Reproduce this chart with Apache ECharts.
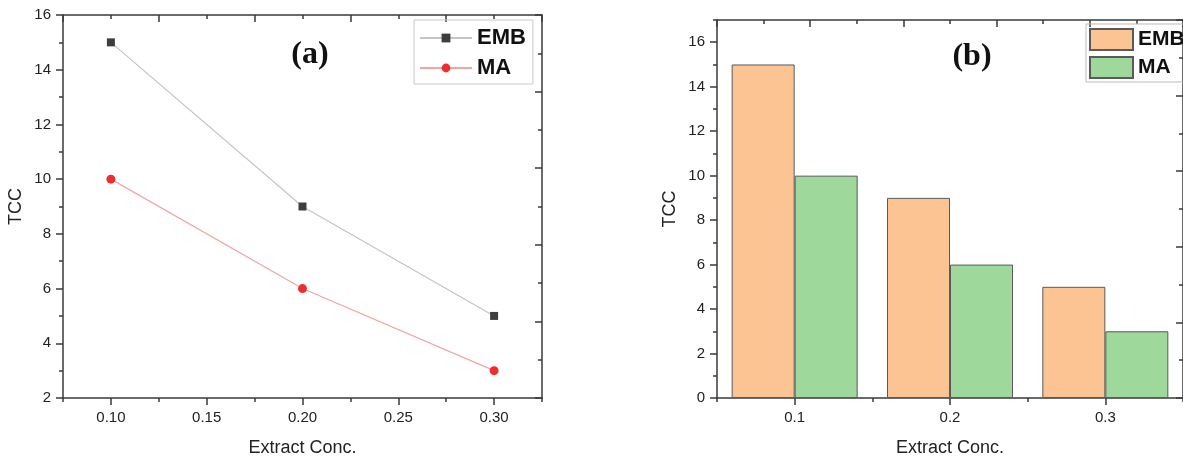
<!DOCTYPE html>
<html>
<head>
<meta charset="utf-8">
<script src="https://cdn.jsdelivr.net/npm/echarts@6/dist/echarts.min.js"></script>
<style>
  html, body { margin: 0; padding: 0; background: #fff; }
  #chart { width: 1183px; height: 462px; }
</style>
</head>
<body>
<div id="chart"></div>
<script>
// data
const conc = [0.1, 0.2, 0.3];
const embTcc = [15, 9, 5];
const maTcc = [10, 6, 3];

// tick labels
const xLabelsA = [0.1, 0.15, 0.2, 0.25, 0.3];
const xMinorA = [0.075, 0.125, 0.175, 0.225, 0.275, 0.325];
const xLabelsB = [0.1, 0.2, 0.3];
const xMinorB = [0.05, 0.15, 0.25, 0.35];
const yLabelsB = [0, 2, 4, 6, 8, 10, 12, 14, 16];
const yMinorB = [1, 3, 5, 7, 9, 11, 13, 15, 17];

const sans = 'Liberation Sans, Arial, sans-serif';
const serif = 'Liberation Serif, Times New Roman, serif';
const axisColor = '#3a3a3a';

const pairs = vals => conc.map((x, i) => [x, vals[i]]);

// plain mirrored / helper axis
const axis = (o) => Object.assign({
  type: 'value',
  axisLine: { show: true, onZero: false, lineStyle: { color: axisColor, width: 1.5 } },
  axisTick: { show: true, length: 7, lineStyle: { color: axisColor, width: 1.5 } },
  axisLabel: { show: false },
  splitLine: { show: false }
}, o);

const tickLabel = { fontFamily: sans, fontSize: 15, color: '#222', margin: 12 };
const axisName = { fontFamily: sans, fontSize: 18, color: '#222' };

const chart = echarts.init(document.getElementById('chart'), null, { renderer: 'canvas' });

chart.setOption({
  animation: false,
  backgroundColor: '#fff',
  title: [
    { text: '(a)', left: 305, top: 34, textAlign: 'center',
      textStyle: { fontFamily: serif, fontWeight: 'bold', fontSize: 32, color: '#111' } },
    { text: '(b)', left: 967, top: 36, textAlign: 'center',
      textStyle: { fontFamily: serif, fontWeight: 'bold', fontSize: 32, color: '#111' } }
  ],
  grid: [
    { left: 63, top: 15, width: 479, height: 387 },
    { left: 717, top: 20, width: 472, height: 382 }
  ],
  legend: [
    {
      data: ['EMB', 'MA'],
      orient: 'vertical', left: 414, top: 20,
      padding: [6, 7, 4, 5], itemGap: 6,
      itemWidth: 52, itemHeight: 11,
      borderColor: '#c8c8c8', borderWidth: 1,
      textStyle: { fontFamily: sans, fontWeight: 'bold', fontSize: 22, lineHeight: 24, color: '#111' }
    },
    {
      data: ['EMB bar', 'MA bar'],
      formatter: name => name.replace(' bar', ''),
      orient: 'vertical', left: 1086, top: 24,
      padding: [4, 3, 3, 3], itemGap: 5,
      icon: 'rect', itemWidth: 43, itemHeight: 21,
      borderColor: '#bbb', borderWidth: 1,
      textStyle: { fontFamily: sans, fontWeight: 'bold', fontSize: 21, lineHeight: 21, color: '#111' }
    }
  ],
  xAxis: [
    axis({
      gridIndex: 0, position: 'bottom', min: 0.075, max: 0.325,
      axisTick: { show: true, length: 7, customValues: xLabelsA, lineStyle: { color: axisColor, width: 1.5 } },
      axisLabel: Object.assign({ show: true, customValues: xLabelsA, formatter: v => v.toFixed(2) }, tickLabel),
      name: 'Extract Conc.', nameLocation: 'middle', nameGap: 41, nameTextStyle: axisName
    }),
    axis({
      gridIndex: 0, position: 'bottom', min: 0.075, max: 0.325,
      axisLine: { show: false },
      axisTick: { show: true, length: 4, customValues: xMinorA, lineStyle: { color: axisColor, width: 1.5 } }
    }),
    axis({
      gridIndex: 0, position: 'top', min: 0.075, max: 0.325, interval: 0.05,
      axisTick: { show: true, inside: true, length: 7, lineStyle: { color: axisColor, width: 1.5 } },
      minorTick: { show: true, splitNumber: 2, length: 4, lineStyle: { color: axisColor, width: 1.5 } }
    }),
    axis({
      gridIndex: 1, position: 'bottom', min: 0.05, max: 0.35,
      axisTick: { show: true, length: 7, customValues: xLabelsB, lineStyle: { color: axisColor, width: 1.5 } },
      axisLabel: Object.assign({ show: true, customValues: xLabelsB, formatter: v => v.toFixed(1) }, tickLabel),
      name: 'Extract Conc.', nameLocation: 'middle', nameGap: 41, nameTextStyle: axisName
    }),
    axis({
      gridIndex: 1, position: 'bottom', min: 0.05, max: 0.35,
      axisLine: { show: false },
      axisTick: { show: true, length: 4, customValues: xMinorB, lineStyle: { color: axisColor, width: 1.5 } }
    }),
    axis({
      gridIndex: 1, position: 'top', min: 0.05, max: 0.35, interval: 0.06,
      axisTick: { show: true, inside: true, length: 7, lineStyle: { color: axisColor, width: 1.5 } },
      minorTick: { show: true, splitNumber: 2, length: 4, lineStyle: { color: axisColor, width: 1.5 } }
    })
  ],
  yAxis: [
    axis({
      gridIndex: 0, position: 'left', min: 2, max: 16, interval: 2,
      minorTick: { show: true, splitNumber: 2, length: 4, lineStyle: { color: axisColor, width: 1.5 } },
      axisLabel: Object.assign({ show: true }, tickLabel),
      name: 'TCC', nameLocation: 'middle', nameGap: 38, nameTextStyle: axisName
    }),
    axis({
      gridIndex: 0, position: 'right', min: 2, max: 16, interval: 2.8,
      axisTick: { show: true, inside: true, length: 7, lineStyle: { color: axisColor, width: 1.5 } },
      minorTick: { show: true, splitNumber: 2, length: 4, lineStyle: { color: axisColor, width: 1.5 } }
    }),
    axis({
      gridIndex: 1, position: 'left', min: 0, max: 17,
      axisTick: { show: true, length: 7, customValues: yLabelsB, lineStyle: { color: axisColor, width: 1.5 } },
      axisLabel: Object.assign({ show: true, customValues: yLabelsB }, tickLabel),
      name: 'TCC', nameLocation: 'middle', nameGap: 38, nameTextStyle: axisName
    }),
    axis({
      gridIndex: 1, position: 'left', min: 0, max: 17,
      axisLine: { show: false },
      axisTick: { show: true, length: 4, customValues: yMinorB, lineStyle: { color: axisColor, width: 1.5 } }
    }),
    axis({
      gridIndex: 1, position: 'right', min: 0, max: 17, interval: 3.4,
      axisTick: { show: true, inside: true, length: 7, lineStyle: { color: axisColor, width: 1.5 } },
      minorTick: { show: true, splitNumber: 2, length: 4, lineStyle: { color: axisColor, width: 1.5 } }
    })
  ],
  series: [
    {
      name: 'EMB', type: 'line', xAxisIndex: 0, yAxisIndex: 0,
      data: pairs(embTcc),
      symbol: 'rect', symbolSize: 8,
      itemStyle: { color: '#3d3d3d' },
      lineStyle: { color: '#c4c4c4', width: 1.2 }
    },
    {
      name: 'MA', type: 'line', xAxisIndex: 0, yAxisIndex: 0,
      data: pairs(maTcc),
      symbol: 'circle', symbolSize: 9,
      itemStyle: { color: '#ee2e2e' },
      lineStyle: { color: '#f2a5a5', width: 1.2 }
    },
    {
      name: 'EMB bar', type: 'bar', xAxisIndex: 3, yAxisIndex: 2,
      data: pairs(embTcc),
      barWidth: 63, barGap: '0%',
      itemStyle: { color: '#fdc493', borderColor: '#5a5a5a', borderWidth: 1 }
    },
    {
      name: 'MA bar', type: 'bar', xAxisIndex: 3, yAxisIndex: 2,
      data: pairs(maTcc),
      barWidth: 63, barGap: '0%',
      itemStyle: { color: '#9ed89b', borderColor: '#5a5a5a', borderWidth: 1 }
    }
  ]
});
</script>
</body>
</html>
